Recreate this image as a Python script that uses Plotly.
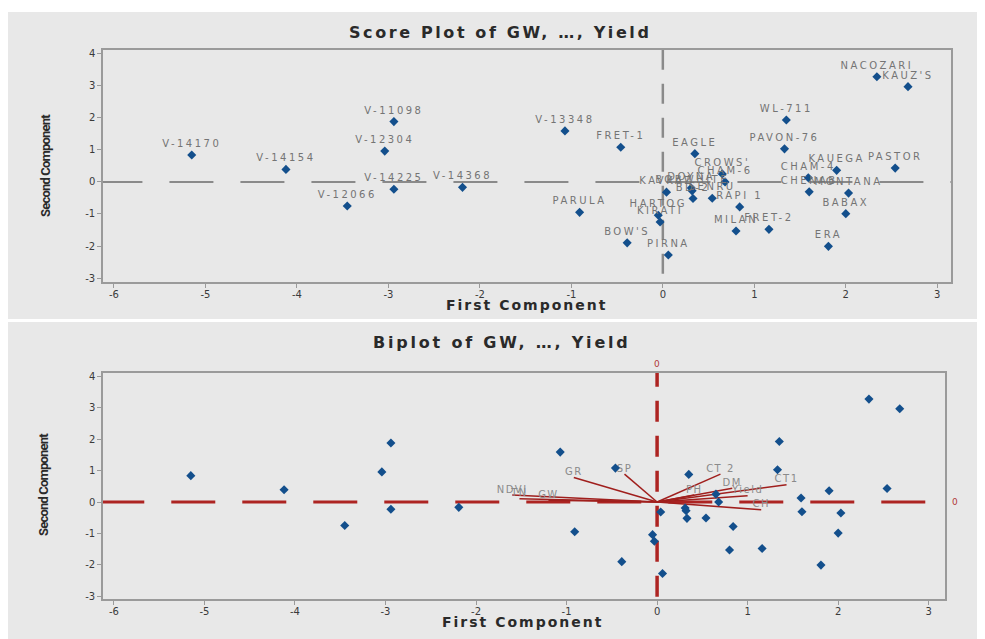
import plotly.graph_objects as go

# ---------------- data ----------------
genotypes = ["V-14170", "V-14154", "V-11098", "V-12304", "V-14225", "V-12066", "V-14368",
             "V-13348", "FRET-1", "EAGLE", "PAVON-76", "WL-711", "NACOZARI", "KAUZ'S",
             "PASTOR", "KAUEGA", "CHAM-4", "CHENAB", "MONTANA", "BABAX", "ERA", "MILAN",
             "FRET-2", "RAPI 1", "PARULA", "HARTOG", "KIRATI", "BOW'S", "PIRNA",
             "CROWS'", "CHAM-6", "KAVKAZ", "DOYNA", "BOBWHITE", "BD-2", "SENRU"]
pc1 = [-5.15, -4.12, -2.94, -3.04, -2.94, -3.45, -2.19,
       -1.07, -0.46, 0.35, 1.33, 1.35, 2.34, 2.68,
       2.54, 1.90, 1.59, 1.60, 2.03, 2.00, 1.81, 0.80,
       1.16, 0.84, -0.91, -0.05, -0.03, -0.39, 0.06,
       0.65, 0.68, 0.04, 0.31, 0.32, 0.33, 0.54]
pc2 = [0.84, 0.39, 1.88, 0.96, -0.23, -0.75, -0.17,
       1.59, 1.08, 0.88, 1.03, 1.93, 3.28, 2.97,
       0.43, 0.36, 0.13, -0.31, -0.35, -0.99, -2.01, -1.53,
       -1.48, -0.78, -0.95, -1.04, -1.25, -1.90, -2.28,
       0.25, 0.00, -0.32, -0.19, -0.28, -0.52, -0.51]

variables = ["NDVI", "TN", "GW", "GR", "SP", "CT 2", "DM", "PH", "CT1", "Yield", "CH"]
load1 = [-1.60, -1.52, -1.20, -0.92, -0.36, 0.70, 0.83, 0.41, 1.43, 1.00, 1.15]
load2 = [0.22, 0.10, 0.06, 0.78, 0.89, 0.89, 0.44, 0.22, 0.55, 0.20, -0.25]

tick_x = [-6, -5, -4, -3, -2, -1, 0, 1, 2, 3]
tick_y = [-3, -2, -1, 0, 1, 2, 3, 4]

top_title = "Score Plot of GW, \u2026, Yield"
bot_title = "Biplot of GW, \u2026, Yield"
x_title = "First Component"
y_title = "Second Component"

# ---------------- layout helpers ----------------
W, H = 985, 639
OFF = 8  # page body margin
def fx(p):
    return (p - OFF) / W
def fy(p):
    return 1 - (p - OFF) / H

def sp(t, ls):
    return "<span style='letter-spacing:%spx'>%s</span>" % (ls, t)

BLUE = "#134f8c"
RED = "#ad2422"
GREYL = "#8a8a8a"
TXT = "#3a3a3a"

fig = go.Figure()

# top score plot
fig.add_trace(go.Scatter(
    x=pc1, y=pc2, mode="markers+text",
    text=[sp(g, 2.5) for g in genotypes], textposition="top center",
    textfont=dict(family="DejaVu Sans", size=10, color="#747474"),
    marker=dict(symbol="diamond", size=7, color=BLUE),
    xaxis="x", yaxis="y", showlegend=False, cliponaxis=False, hoverinfo="skip"))

# bottom biplot vectors
vx, vy = [], []
for a, b in zip(load1, load2):
    vx += [0, a, None]
    vy += [0, b, None]
fig.add_trace(go.Scatter(
    x=vx, y=vy, mode="lines", line=dict(color="#a01f1d", width=1.5),
    xaxis="x2", yaxis="y2", showlegend=False, hoverinfo="skip"))
fig.add_trace(go.Scatter(
    x=load1, y=load2, mode="text", text=[sp(v, 1.5) for v in variables],
    textposition="top center",
    textfont=dict(family="DejaVu Sans", size=10, color="#8a8a8a"),
    xaxis="x2", yaxis="y2", showlegend=False, hoverinfo="skip"))
# bottom biplot scores
fig.add_trace(go.Scatter(
    x=pc1, y=pc2, mode="markers",
    marker=dict(symbol="diamond", size=7, color=BLUE),
    xaxis="x2", yaxis="y2", showlegend=False, hoverinfo="skip"))

xr1 = [-6.12, 3.15]
yr1 = [-3.13, 4.12]
xr2 = [-6.12, 3.18]
yr2 = [-3.10, 4.12]

tickfont = dict(family="DejaVu Sans", size=10, color=TXT)
common = dict(showgrid=False, zeroline=False, showline=True, mirror=True,
              linecolor="#9a9a9a", linewidth=1.5, ticks="outside", ticklen=4,
              tickcolor="#9a9a9a", tickfont=tickfont)

fig.update_layout(
    width=W, height=H, margin=dict(l=0, r=0, t=0, b=0),
    paper_bgcolor="white", plot_bgcolor="white",
    xaxis=dict(domain=[fx(103), fx(951)], range=xr1, anchor="y", ticklabelstandoff=-2,
               tickvals=tick_x, ticktext=[str(v) for v in tick_x], **common),
    yaxis=dict(domain=[fy(282), fy(48)], range=yr1, anchor="x",
               tickvals=tick_y, ticktext=[str(v) for v in tick_y], **common),
    xaxis2=dict(domain=[fx(103), fx(945)], range=xr2, anchor="y2", ticklabelstandoff=-2,
                tickvals=tick_x, ticktext=[str(v) for v in tick_x], **common),
    yaxis2=dict(domain=[fy(601), fy(373)], range=yr2, anchor="x2",
                tickvals=tick_y, ticktext=[str(v) for v in tick_y], **common),
)

shapes = [
    # grey panels
    dict(type="rect", xref="paper", yref="paper", x0=0, x1=1, y0=fy(319), y1=fy(10),
         fillcolor="#e8e8e8", line=dict(width=0), layer="below"),
    dict(type="rect", xref="paper", yref="paper", x0=0, x1=1, y0=0, y1=fy(322),
         fillcolor="#e8e8e8", line=dict(width=0), layer="below"),
    # top reference lines
    dict(type="line", xref="x", yref="y", x0=xr1[0] - 0.05, x1=xr1[1], y0=0, y1=0,
         line=dict(color=GREYL, width=2, dash="44px,27px"), layer="below"),
    dict(type="line", xref="x", yref="y", x0=0, x1=0, y0=yr1[1], y1=yr1[0],
         line=dict(color=GREYL, width=2.5, dash="20px,14px"), layer="below"),
    # bottom reference lines
    dict(type="line", xref="x2", yref="y2", x0=xr2[0] - 0.03, x1=xr2[1], y0=0, y1=0,
         line=dict(color=RED, width=3, dash="44px,27px"), layer="below"),
    dict(type="line", xref="x2", yref="y2", x0=0, x1=0, y0=yr2[1] + 0.22, y1=yr2[0],
         line=dict(color=RED, width=3.5, dash="21px,14px"), layer="below"),
]
fig.update_layout(shapes=shapes)

ann = []
titlefont = dict(family="DejaVu Sans", size=16, color="#2a2a2a")
ann.append(dict(text="<b>" + sp(top_title, 2.6) + "</b>", x=fx(500), y=fy(31), xref="paper",
                yref="paper", showarrow=False, font=titlefont, xanchor="center", yanchor="middle"))
ann.append(dict(text="<b>" + sp(bot_title, 2.8) + "</b>", x=fx(502), y=fy(343), xref="paper",
                yref="paper", showarrow=False, font=titlefont, xanchor="center", yanchor="middle"))
axfont = dict(family="DejaVu Sans", size=14, color="#2a2a2a")
ann.append(dict(text="<b>" + sp(x_title, 2) + "</b>", x=fx(526), y=fy(305), xref="paper",
                yref="paper", showarrow=False, font=axfont, xanchor="center", yanchor="middle"))
ann.append(dict(text="<b>" + sp(x_title, 2) + "</b>", x=fx(522), y=fy(624), xref="paper",
                yref="paper", showarrow=False, font=axfont, xanchor="center", yanchor="middle"))
yfont = dict(family="Roboto", size=13, color="#2a2a2a")
ann.append(dict(text="<b>" + sp(y_title, -0.8) + "</b>", x=fx(45), y=fy(165), xref="paper",
                yref="paper", showarrow=False, font=yfont, textangle=-90,
                xanchor="center", yanchor="middle"))
ann.append(dict(text="<b>" + sp(y_title, -0.8) + "</b>", x=fx(43), y=fy(486), xref="paper",
                yref="paper", showarrow=False, font=yfont, textangle=-90,
                xanchor="center", yanchor="middle"))
# red reference-line labels
redfont = dict(family="DejaVu Sans", size=9, color="#b23a3a")
ann.append(dict(text="0", x=0, xref="x2", y=fy(364), yref="paper", showarrow=False,
                font=redfont, xanchor="center", yanchor="middle"))
ann.append(dict(text="0", x=fx(955), xref="paper", y=0, yref="y2", showarrow=False,
                font=redfont, xanchor="center", yanchor="middle"))
fig.update_layout(annotations=ann)

fig.write_html("out.html")
